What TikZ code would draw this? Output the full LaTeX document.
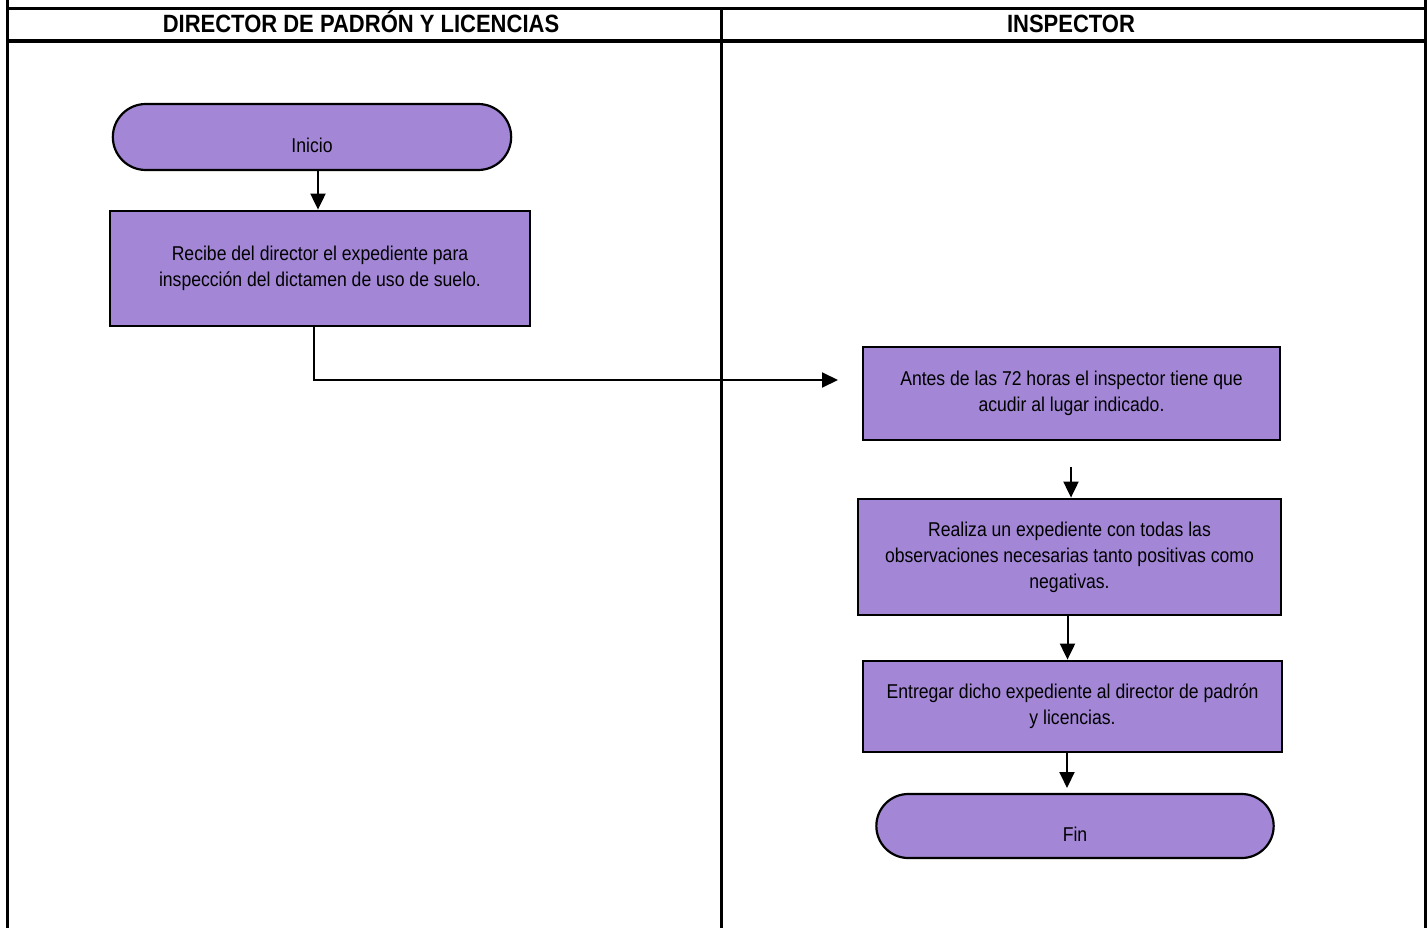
\documentclass[tikz,border=0pt]{standalone}
\usepackage{fontspec}
\setmainfont{Liberation Sans}[FakeStretch=0.88]
\usetikzlibrary{arrows.meta,shapes.misc,positioning}
\definecolor{boxpurple}{RGB}{163,135,214}

\begin{document}
\begin{tikzpicture}[x=1pt, y=-1pt,
    procbox/.style={draw, line width=2.8pt, fill=boxpurple, align=center,
        font=\fontsize{20}{26}\selectfont, inner sep=0pt},
    termbox/.style={draw, line width=2.2pt, fill=boxpurple, rounded rectangle,
        font=\fontsize{20}{26}\selectfont, minimum width=405, minimum height=66},
    lanehead/.style={font=\fontsize{25}{28}\selectfont\bfseries, anchor=base},
    flow/.style={line width=2pt, -{Triangle[length=16pt,width=15pt]}},
    lane/.style={line width=3pt}]
    \useasboundingbox (0,0) rectangle (1427,928);

    % Lanes
    \draw[lane] (7,0) -- (7,928);
    \draw[lane] (1425,0) -- (1425,928);
    \draw[lane] (721,9) -- (721,928);
    \draw[lane] (7,9) -- (1425,9);
    \draw[line width=4.5pt] (7,41) -- (1425,41);

    % Lane headers
    \node[lanehead] (hdir) at (361,33) {DIRECTOR DE PADRÓN Y LICENCIAS};
    \node[lanehead] (hins) at (1071,33) {INSPECTOR};

    % Steps
    \node[termbox] (inicio) at (312,137) {\raisebox{-8pt}[\height][\depth]{Inicio}};
    \node[procbox, minimum width=420, minimum height=115] (recibe) at (320,268.5)
        {Recibe del director el expediente para\\inspección del dictamen de uso de suelo.};
    \node[procbox, minimum width=417, minimum height=93] (antes) at (1071.5,393.5)
        {Antes de las 72 horas el inspector tiene que\\acudir al lugar indicado.};
    \node[procbox, minimum width=423, minimum height=116] (realiza) at (1069.5,557)
        {Realiza un expediente con todas las\\observaciones necesarias tanto positivas como\\negativas.};
    \node[procbox, minimum width=419, minimum height=91] (entrega) at (1072.5,706.5)
        {Entregar dicho expediente al director de padrón\\y licencias.};
    \node[termbox, minimum width=404, minimum height=64] (fin) at (1075,826) {\raisebox{-8pt}[\height][\depth]{Fin}};

    % Free arrow ends
    \coordinate (a2) at (838,380);
    \coordinate (a3) at (1071,467);
    \coordinate (a5) at (1067,788);

    % Flow
    \draw[flow] ([xshift=6]inicio.south) -- ([xshift=-2]recibe.north);
    \draw[flow] ([xshift=-6]recibe.south) |- (a2);
    \draw[flow] (a3) -- (a3 |- realiza.north);
    \draw[flow] ([xshift=-2]realiza.south) -- ([xshift=-2]realiza.south |- entrega.north);
    \draw[flow] (entrega.south -| a5) -- (a5);
\end{tikzpicture}
\end{document}
